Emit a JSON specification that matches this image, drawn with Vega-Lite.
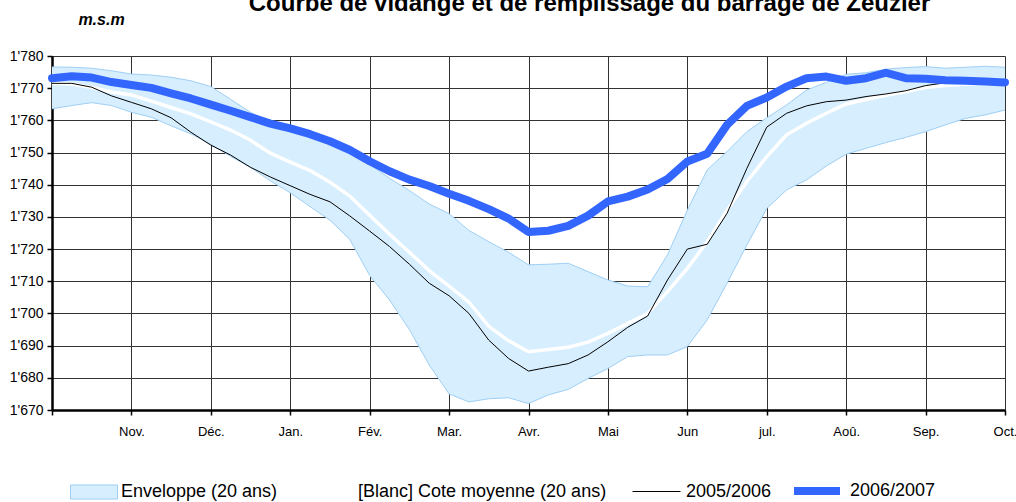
{
  "$schema": "https://vega.github.io/schema/vega-lite/v6.json",
  "autosize": "none",
  "padding": {"left": 52, "top": 56, "right": 11, "bottom": 92},
  "width": 953,
  "height": 354,
  "background": "white",
  "title": {
    "text": "Courbe de vidange et de remplissage du barrage de Zeuzier",
    "font": "Liberation Sans",
    "fontSize": 24,
    "fontWeight": "bold",
    "color": "black",
    "anchor": "middle",
    "dx": 61,
    "dy": 5,
    "offset": 0
  },
  "config": {
    "view": {"stroke": null},
    "font": "Liberation Sans",
    "axisY": {
      "titleAngle": 0,
      "titleX": 49,
      "titleY": -37,
      "titleAlign": "center",
      "titleBaseline": "middle",
      "titleFont": "Liberation Sans",
      "titleFontSize": 16,
      "titleFontWeight": "bold",
      "titleFontStyle": "italic",
      "titleColor": "black",
      "labelFont": "Liberation Sans",
      "labelFontSize": 14,
      "labelColor": "black",
      "labelPadding": 4,
      "tickSize": 5,
      "tickColor": "black",
      "tickWidth": 1.5,
      "domainColor": "black",
      "domainWidth": 2.5,
      "grid": true,
      "gridColor": "#333333",
      "gridWidth": 1
    },
    "legend": {
      "orient": "none",
      "direction": "horizontal",
      "padding": 0,
      "title": null,
      "labelFont": "Liberation Sans",
      "labelFontSize": 18,
      "labelColor": "black",
      "labelLimit": 400
    }
  },
  "data": {
    "values": [
      {"m": 0, "lo": 1763.6, "hi": 1776.6, "mean": 1771.5, "a0506": 1771.5, "a0607": 1773.1},
      {"m": 0.25, "lo": 1764.6, "hi": 1776.5, "mean": 1771.3, "a0506": 1771.5, "a0607": 1773.7},
      {"m": 0.5, "lo": 1765.5, "hi": 1776.2, "mean": 1770.2, "a0506": 1770.3, "a0607": 1773.3},
      {"m": 0.75, "lo": 1764.6, "hi": 1775.4, "mean": 1768.8, "a0506": 1767.6, "a0607": 1771.9},
      {"m": 1, "lo": 1762.5, "hi": 1774.4, "mean": 1767.9, "a0506": 1765.6, "a0607": 1771.0},
      {"m": 1.25, "lo": 1761.0, "hi": 1774.1, "mean": 1766.0, "a0506": 1763.6, "a0607": 1770.1},
      {"m": 1.5, "lo": 1758.3, "hi": 1773.4, "mean": 1764.0, "a0506": 1760.8, "a0607": 1768.4},
      {"m": 1.75, "lo": 1755.8, "hi": 1772.3, "mean": 1762.0, "a0506": 1756.3, "a0607": 1766.8},
      {"m": 2, "lo": 1752.6, "hi": 1770.5, "mean": 1759.5, "a0506": 1752.3, "a0607": 1764.9},
      {"m": 2.25, "lo": 1748.8, "hi": 1766.5, "mean": 1757.0, "a0506": 1749.2, "a0607": 1763.0},
      {"m": 2.5, "lo": 1745.4, "hi": 1762.5, "mean": 1753.8, "a0506": 1745.4, "a0607": 1761.0},
      {"m": 2.75, "lo": 1741.2, "hi": 1759.6, "mean": 1749.8, "a0506": 1742.4, "a0607": 1759.0},
      {"m": 3, "lo": 1737.5, "hi": 1757.5, "mean": 1747.0, "a0506": 1739.7, "a0607": 1757.5},
      {"m": 3.25, "lo": 1733.2, "hi": 1755.8, "mean": 1744.4, "a0506": 1737.0, "a0607": 1755.7},
      {"m": 3.5, "lo": 1729.0, "hi": 1753.5, "mean": 1740.8, "a0506": 1734.7, "a0607": 1753.5},
      {"m": 3.75, "lo": 1723.0, "hi": 1750.3, "mean": 1736.5, "a0506": 1730.3, "a0607": 1750.8},
      {"m": 4, "lo": 1711.8, "hi": 1746.4, "mean": 1730.5, "a0506": 1725.6, "a0607": 1747.3},
      {"m": 4.25, "lo": 1704.2, "hi": 1742.0, "mean": 1724.6, "a0506": 1720.8, "a0607": 1744.2},
      {"m": 4.5, "lo": 1695.0, "hi": 1738.2, "mean": 1719.0, "a0506": 1715.3, "a0607": 1741.6},
      {"m": 4.75, "lo": 1684.0, "hi": 1734.0, "mean": 1713.3, "a0506": 1709.4, "a0607": 1739.6},
      {"m": 5, "lo": 1675.0, "hi": 1731.0, "mean": 1708.5, "a0506": 1705.5, "a0607": 1737.2},
      {"m": 5.25, "lo": 1672.5, "hi": 1725.8, "mean": 1703.5, "a0506": 1700.0, "a0607": 1735.0},
      {"m": 5.5, "lo": 1673.5, "hi": 1722.3, "mean": 1696.0, "a0506": 1691.7, "a0607": 1732.4},
      {"m": 5.75, "lo": 1673.8, "hi": 1719.0, "mean": 1691.5, "a0506": 1686.0, "a0607": 1729.5},
      {"m": 6, "lo": 1672.0, "hi": 1715.1, "mean": 1688.1, "a0506": 1682.1, "a0607": 1725.3},
      {"m": 6.25, "lo": 1674.7, "hi": 1715.3, "mean": 1688.8, "a0506": 1683.3, "a0607": 1725.7},
      {"m": 6.5, "lo": 1676.4, "hi": 1715.6, "mean": 1689.5, "a0506": 1684.4, "a0607": 1727.2},
      {"m": 6.75, "lo": 1679.8, "hi": 1713.0, "mean": 1691.1, "a0506": 1687.1, "a0607": 1730.4},
      {"m": 7, "lo": 1682.9, "hi": 1710.4, "mean": 1693.8, "a0506": 1691.2, "a0607": 1734.8},
      {"m": 7.25, "lo": 1686.6, "hi": 1708.5, "mean": 1696.9, "a0506": 1695.7, "a0607": 1736.3},
      {"m": 7.5, "lo": 1687.1, "hi": 1708.3, "mean": 1700.0, "a0506": 1699.2, "a0607": 1738.5},
      {"m": 7.75, "lo": 1687.1, "hi": 1718.2, "mean": 1706.8, "a0506": 1710.4, "a0607": 1741.8},
      {"m": 8, "lo": 1689.7, "hi": 1732.1, "mean": 1714.0, "a0506": 1720.0, "a0607": 1747.2},
      {"m": 8.25, "lo": 1698.0, "hi": 1744.6, "mean": 1722.3, "a0506": 1721.5, "a0607": 1749.6},
      {"m": 8.5, "lo": 1709.4, "hi": 1750.3, "mean": 1732.1, "a0506": 1731.1, "a0607": 1758.6},
      {"m": 8.75, "lo": 1721.3, "hi": 1756.5, "mean": 1741.0, "a0506": 1745.1, "a0607": 1764.5},
      {"m": 9, "lo": 1732.6, "hi": 1760.8, "mean": 1748.7, "a0506": 1757.9, "a0607": 1767.1},
      {"m": 9.25, "lo": 1738.4, "hi": 1764.8, "mean": 1755.5, "a0506": 1762.2, "a0607": 1770.5},
      {"m": 9.5, "lo": 1741.5, "hi": 1769.4, "mean": 1759.1, "a0506": 1764.5, "a0607": 1773.1},
      {"m": 9.75, "lo": 1745.8, "hi": 1771.8, "mean": 1762.2, "a0506": 1765.8, "a0607": 1773.6},
      {"m": 10, "lo": 1749.5, "hi": 1774.3, "mean": 1765.1, "a0506": 1766.3, "a0607": 1772.3},
      {"m": 10.25, "lo": 1751.3, "hi": 1774.8, "mean": 1766.5, "a0506": 1767.4, "a0607": 1773.1},
      {"m": 10.5, "lo": 1753.1, "hi": 1775.9, "mean": 1767.8, "a0506": 1768.2, "a0607": 1774.8},
      {"m": 10.75, "lo": 1754.7, "hi": 1776.4, "mean": 1768.9, "a0506": 1769.2, "a0607": 1773.1},
      {"m": 11, "lo": 1756.5, "hi": 1776.7, "mean": 1770.2, "a0506": 1770.8, "a0607": 1772.9},
      {"m": 11.25, "lo": 1758.6, "hi": 1776.2, "mean": 1770.8, "a0506": 1771.7, "a0607": 1772.5},
      {"m": 11.5, "lo": 1760.6, "hi": 1776.5, "mean": 1771.2, "a0506": 1772.2, "a0607": 1772.3},
      {"m": 11.75, "lo": 1761.7, "hi": 1776.8, "mean": 1771.4, "a0506": 1772.3, "a0607": 1772.1},
      {"m": 12, "lo": 1763.2, "hi": 1776.5, "mean": 1771.5, "a0506": 1772.3, "a0607": 1771.8}
    ]
  },
  "encoding": {
    "x": {
      "field": "m",
      "type": "quantitative",
      "scale": {"domain": [0, 12], "nice": false, "zero": false},
      "axis": {
        "title": null,
        "values": [0, 1, 2, 3, 4, 5, 6, 7, 8, 9, 10, 11, 12],
        "labelExpr": "['', 'Nov.', 'Déc.', 'Jan.', 'Fév.', 'Mar.', 'Avr.', 'Mai', 'Jun', 'jul.', 'Aoû.', 'Sep.', 'Oct.'][datum.value]",
        "labelFlush": false,
        "labelOverlap": false,
        "labelFont": "Liberation Sans",
        "labelFontSize": 13,
        "labelColor": "black",
        "labelPadding": 10,
        "labelBaseline": "top",
        "tickSize": 5,
        "tickColor": "black",
        "tickWidth": 1.5,
        "domainColor": "black",
        "domainWidth": 2.5,
        "grid": true,
        "gridColor": "#333333",
        "gridWidth": 1
      }
    }
  },
  "layer": [
    {
      "mark": {"type": "area", "opacity": 1},
      "encoding": {
        "y": {
          "field": "lo",
          "type": "quantitative",
          "scale": {"domain": [1670, 1780], "nice": false, "zero": false},
          "axis": {"title": "m.s.m", "values": [1670, 1680, 1690, 1700, 1710, 1720, 1730, 1740, 1750, 1760, 1770, 1780], "labelExpr": "replace(format(datum.value, ','), ',', \"'\")", "labelOverlap": false, "labelFlush": false}
        },
        "y2": {"field": "hi"},
        "fill": {
          "datum": "Enveloppe (20 ans)",
          "scale": {"range": ["#d6eefd"]},
          "legend": {
            "legendX": 18,
            "legendY": 412,
            "symbolType": "M-1,-0.3L1,-0.3L1,0.3L-1,0.3Z",
            "symbolSize": 2209,
            "symbolStrokeColor": "#9fcff5",
            "symbolStrokeWidth": 1,
            "symbolOpacity": 1,
            "labelOffset": 3
          }
        }
      }
    },
    {
      "mark": {"type": "line", "color": "#9fcff5", "strokeWidth": 1},
      "encoding": {"y": {"field": "lo", "type": "quantitative", "axis": {"title": "m.s.m", "values": [1670, 1680, 1690, 1700, 1710, 1720, 1730, 1740, 1750, 1760, 1770, 1780], "labelExpr": "replace(format(datum.value, ','), ',', \"'\")", "labelOverlap": false, "labelFlush": false}}}
    },
    {
      "mark": {"type": "line", "color": "#9fcff5", "strokeWidth": 1},
      "encoding": {"y": {"field": "hi", "type": "quantitative", "axis": {"title": "m.s.m", "values": [1670, 1680, 1690, 1700, 1710, 1720, 1730, 1740, 1750, 1760, 1770, 1780], "labelExpr": "replace(format(datum.value, ','), ',', \"'\")", "labelOverlap": false, "labelFlush": false}}}
    },
    {
      "mark": {"type": "line", "strokeWidth": 3.5},
      "encoding": {
        "y": {"field": "mean", "type": "quantitative", "axis": {"title": "m.s.m", "values": [1670, 1680, 1690, 1700, 1710, 1720, 1730, 1740, 1750, 1760, 1770, 1780], "labelExpr": "replace(format(datum.value, ','), ',', \"'\")", "labelOverlap": false, "labelFlush": false}},
        "stroke": {
          "datum": "[Blanc] Cote moyenne (20 ans)",
          "scale": {"range": ["white"]},
          "legend": {
            "legendX": 254,
            "legendY": 413,
            "symbolType": "stroke",
            "symbolSize": 1849,
            "symbolStrokeWidth": 3,
            "labelOffset": 6
          }
        }
      }
    },
    {
      "mark": {"type": "line", "strokeWidth": 1},
      "encoding": {
        "y": {"field": "a0506", "type": "quantitative", "axis": {"title": "m.s.m", "values": [1670, 1680, 1690, 1700, 1710, 1720, 1730, 1740, 1750, 1760, 1770, 1780], "labelExpr": "replace(format(datum.value, ','), ',', \"'\")", "labelOverlap": false, "labelFlush": false}},
        "stroke": {
          "datum": "2005/2006",
          "scale": {"range": ["black"]},
          "legend": {
            "legendX": 580,
            "legendY": 411,
            "symbolType": "stroke",
            "symbolSize": 2304,
            "symbolStrokeWidth": 1,
            "labelOffset": 5
          }
        }
      }
    },
    {
      "mark": {"type": "line", "strokeWidth": 8, "strokeCap": "round", "strokeJoin": "round"},
      "encoding": {
        "y": {"field": "a0607", "type": "quantitative", "axis": {"title": "m.s.m", "values": [1670, 1680, 1690, 1700, 1710, 1720, 1730, 1740, 1750, 1760, 1770, 1780], "labelExpr": "replace(format(datum.value, ','), ',', \"'\")", "labelOverlap": false, "labelFlush": false}},
        "stroke": {
          "datum": "2006/2007",
          "scale": {"range": ["#3366ff"]},
          "legend": {
            "legendX": 738,
            "legendY": 408,
            "symbolType": "stroke",
            "symbolSize": 2116,
            "symbolStrokeWidth": 8,
            "labelOffset": 6
          }
        }
      }
    }
  ],
  "resolve": {"scale": {"stroke": "independent", "fill": "independent"}}
}
